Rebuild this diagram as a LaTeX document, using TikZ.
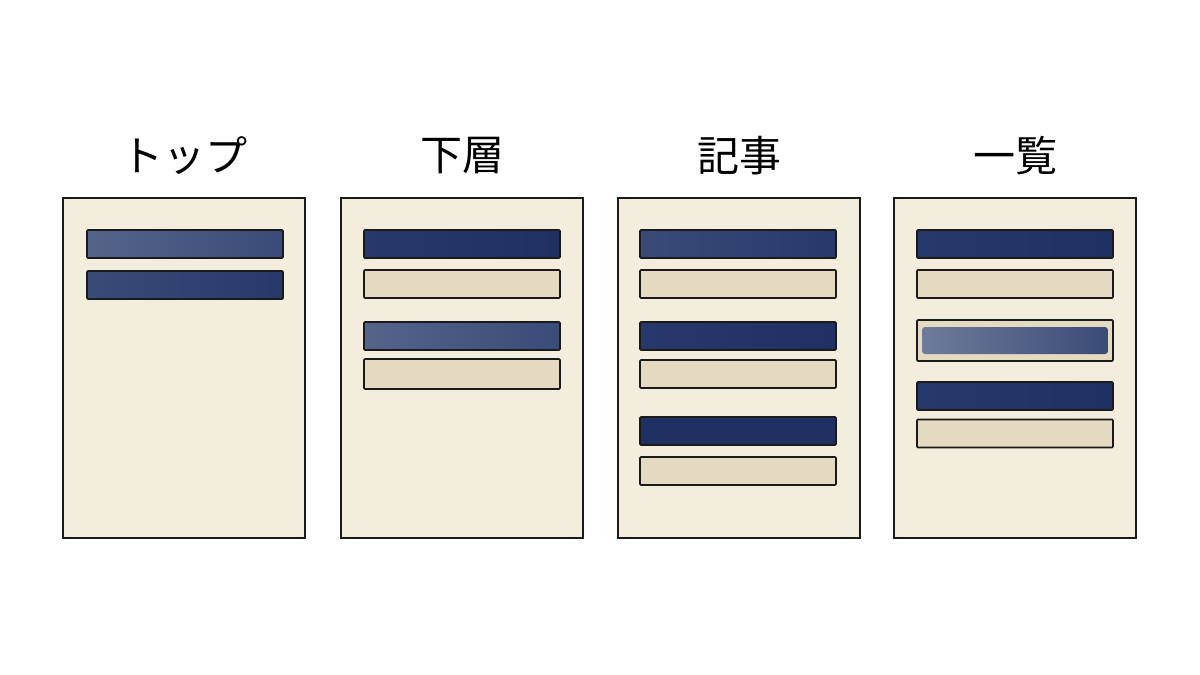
\documentclass[tikz,border=0pt]{standalone}
\usepackage{fontspec}
\newfontfamily\jp{Noto Sans CJK JP}
\definecolor{paper}{HTML}{F3EDDE}
\definecolor{sand}{HTML}{E4D9C1}
\definecolor{ink}{HTML}{27396B}
\definecolor{inkdark}{HTML}{1F3163}
\definecolor{inkmid}{HTML}{3A4B78}
\definecolor{inkgrey}{HTML}{56648A}
\definecolor{inkpale}{HTML}{6F7B9A}
\definecolor{outline}{HTML}{1A1A1A}
\tikzset{
  pagebox/.style={draw=outline, line width=1.6pt, fill=paper, minimum width=242pt, minimum height=340pt, inner sep=0pt, outer sep=0pt},
  bluebar/.style={draw=outline, line width=1.6pt, left color=inkmid, right color=ink, minimum width=196pt, minimum height=28pt, inner sep=0pt, outer sep=0pt, rounded corners=1pt},
  sandbar/.style={draw=outline, line width=1.6pt, fill=sand, minimum width=196pt, minimum height=28pt, inner sep=0pt, outer sep=0pt, rounded corners=1pt},
  titletext/.style={font=\jp\fontsize{42}{46}\selectfont, text=black, inner sep=0pt}
}
\begin{document}
\begin{tikzpicture}[x=1pt,y=-1pt]
\useasboundingbox (0,0) rectangle (1200,675);
\fill[white] (0,0) rectangle (1200,675);
% titles
\node[titletext] (t1) at (184,156) {トップ};
\node[titletext] (t2) at (462,156) {下層};
\node[titletext] (t3) at (739,156) {記事};
\node[titletext] (t4) at (1015,156) {一覧};
% pages
\node[pagebox] (p1) at (184,368) {};
\node[pagebox] (p2) at (462,368) {};
\node[pagebox] (p3) at (739,368) {};
\node[pagebox] (p4) at (1015,368) {};
% page 1
\node[bluebar, left color=inkgrey, right color=inkmid] (p1a) at (185,244) {};
\node[bluebar, left color=inkmid, right color=ink] (p1b) at (185,285) {};
% page 2
\node[bluebar, left color=ink, right color=inkdark] (p2a) at (462,244) {};
\node[sandbar] (p2b) at (462,284) {};
\node[bluebar, left color=inkgrey, right color=inkmid] (p2c) at (462,336) {};
\node[sandbar, minimum height=30pt] (p2d) at (462,374) {};
% page 3
\node[bluebar, left color=inkmid, right color=ink] (p3a) at (738,244) {};
\node[sandbar] (p3b) at (738,284) {};
\node[bluebar, left color=ink, right color=inkdark] (p3c) at (738,336) {};
\node[sandbar] (p3d) at (738,374) {};
\node[bluebar, left color=inkdark, right color=inkdark] (p3e) at (738,431) {};
\node[sandbar] (p3f) at (738,471) {};
% page 4
\node[bluebar, left color=ink, right color=inkdark] (p4a) at (1015,244) {};
\node[sandbar] (p4b) at (1015,284) {};
\node[sandbar, minimum height=41pt] (p4c) at (1015,340.5) {};
\node[left color=inkpale, right color=inkmid, minimum width=186pt, minimum height=27pt, inner sep=0pt, rounded corners=3pt] (p4ci) at (1015,340.5) {};
\node[bluebar, left color=ink, right color=inkdark] (p4d) at (1015,396) {};
\node[sandbar] (p4e) at (1015,433.5) {};
\end{tikzpicture}
\end{document}
